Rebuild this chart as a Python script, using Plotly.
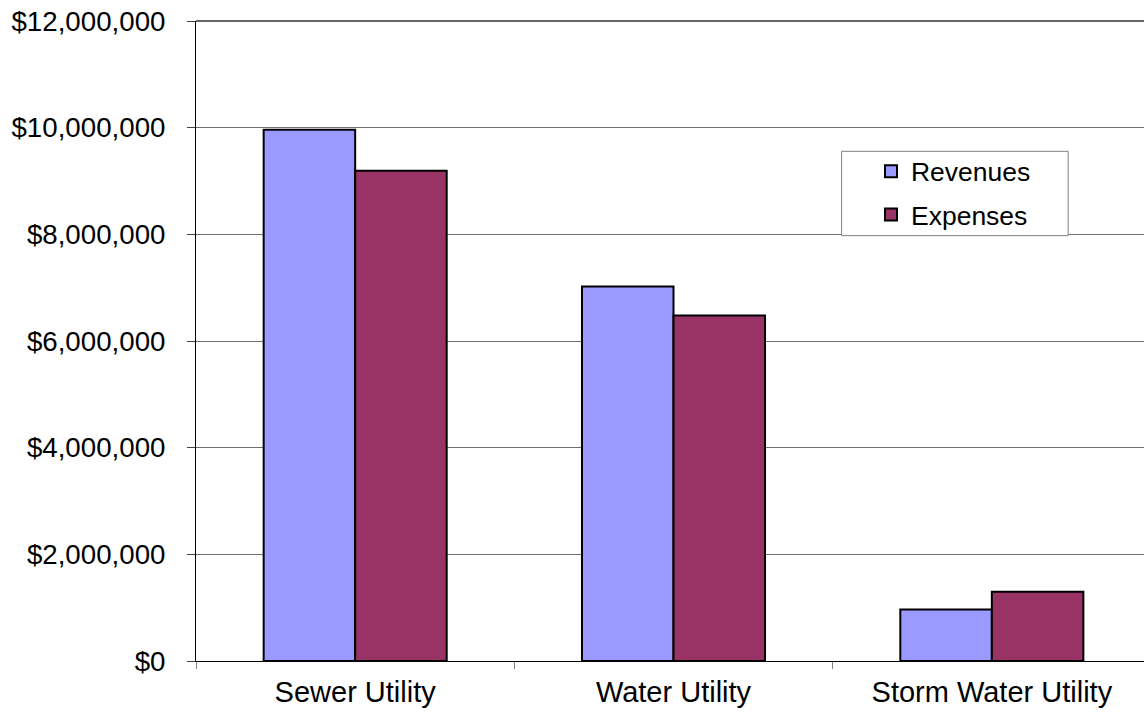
import plotly.graph_objects as go

categories = ["Sewer Utility", "Water Utility", "Storm Water Utility"]
revenues = [9960000, 7020000, 965000]
expenses = [9190000, 6480000, 1300000]
y_ticks = [0, 2000000, 4000000, 6000000, 8000000, 10000000, 12000000]

FONT = "Liberation Sans, Arial, sans-serif"

fig = go.Figure()
fig.add_trace(go.Bar(
    name="Revenues", x=categories, y=revenues, legendgroup="r",
    marker=dict(color="#9999FF", line=dict(color="black", width=2)),
))
fig.add_trace(go.Bar(
    name="Expenses", x=categories, y=expenses, legendgroup="e",
    marker=dict(color="#993366", line=dict(color="black", width=2)),
))

# top gridline drawn darker
fig.add_shape(type="line", xref="paper", yref="paper",
              x0=0, x1=1, y0=1, y1=1,
              line=dict(color="#333333", width=1.5), layer="above")

# legend frame
fig.add_shape(type="rect", xref="paper", yref="paper",
              x0=0.681, x1=0.920, y0=0.6646, y1=0.7964,
              line=dict(color="#808080", width=1), fillcolor="white", layer="above")

fig.update_layout(
    width=1144, height=714,
    margin=dict(l=196, r=0, t=21, b=53),
    paper_bgcolor="white", plot_bgcolor="white",
    barmode="group", bargap=0.425, bargroupgap=0,
    font=dict(family=FONT, size=29, color="black"),
    showlegend=True,
    legend=dict(
        x=0.712, y=0.8025, xanchor="left", yanchor="top",
        bgcolor="rgba(0,0,0,0)", borderwidth=0,
        font=dict(family=FONT, size=26.5, color="black"),
        traceorder="grouped", tracegroupgap=6,
    ),
    xaxis=dict(
        range=[-0.5, 2.478],
        showline=True, linecolor="black", linewidth=1,
        ticks="outside", tickson="boundaries", ticklen=7, tickcolor="#808080",
        showgrid=False, ticklabelstandoff=5,
        tickfont=dict(family=FONT, size=29, color="black"),
    ),
    yaxis=dict(
        range=[0, 12000000], tickvals=y_ticks, tickformat="$,.0f",
        showline=True, linecolor="black", linewidth=1,
        ticks="outside", ticklen=8, tickcolor="#404040",
        showgrid=True, gridcolor="#6e6e6e", gridwidth=1,
        zeroline=False, ticklabelstandoff=16,
        tickfont=dict(family=FONT, size=27.7, color="black"),
    ),
)

fig.write_html("out.html")
